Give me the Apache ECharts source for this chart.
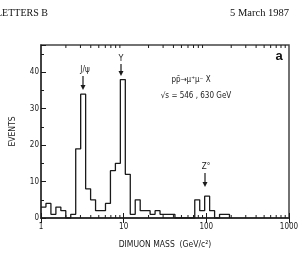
<!DOCTYPE html>
<html><head><meta charset="utf-8">
<script src="https://cdn.jsdelivr.net/npm/echarts@6/dist/echarts.min.js"></script>
<style>html,body{margin:0;padding:0;background:#fff}#c{width:304px;height:262px}</style>
</head><body><div id="c"></div>
<script>
// Bin lower edges (GeV/c^2), log-spaced
const massBinEdges = [1.00,1.148,1.318,1.514,1.738,1.995,2.291,2.630,3.020,3.467,3.981,4.571,5.248,6.026,6.918,7.943,9.120,10.47,12.02,13.80,15.85,18.20,20.89,23.99,27.54,31.62,36.31,41.69,47.86,54.95,63.10,72.44,83.18,95.50,109.6,125.9,144.5,166.0,190.5];
// Events per bin
const events = [3,4,1,3,2,0,1,19,34,8,5,2,2,4,13,15,38,12,1,5,2,2,1,2,1,1,1,0,0,0,0,5,2,6,2,0,1,1];
const xMajorTicks = [1,10,100,1000];
const xMinorTicks = [2,3,4,5,6,7,8,9,20,30,40,50,60,70,80,90,200,300,400,500,600,700,800,900];
const yLabels = [0,10,20,30,40];

const stepData = events.map((v,i)=>[massBinEdges[i], v]);
stepData.push([massBinEdges[events.length], 0]);

const ink = '#1a1a1a';
const lblFont = 'DejaVu Sans Condensed, DejaVu Sans, sans-serif';
const chart = echarts.init(document.getElementById('c'), null, {renderer:'canvas'});
const yMax = 47.5;

chart.setOption({
  animation:false,
  backgroundColor:'#fff',
  grid:{left:41,right:15,top:45,bottom:44,show:true,borderColor:'#444',borderWidth:1.5,backgroundColor:'transparent'},
  xAxis:[{
    type:'log',logBase:10,min:1,max:1000,position:'bottom',
    axisLine:{show:true,lineStyle:{color:'#333',width:1.5}},
    axisTick:{show:true,inside:true,length:5,lineStyle:{color:ink,width:1}},
    axisLabel:{show:true,margin:5,fontSize:8,color:ink,fontFamily:lblFont,formatter:v=>String(Math.round(v))},
    splitLine:{show:false},
    name:'DIMUON MASS  (GeV/c\u00B2)',nameLocation:'middle',nameGap:22,
    nameTextStyle:{fontSize:8.5,color:ink,fontFamily:lblFont}
  },{
    type:'log',logBase:10,min:1,max:1000,position:'top',
    axisLine:{show:true,lineStyle:{color:'#333',width:1.5}},
    axisTick:{show:true,inside:true,length:5,lineStyle:{color:ink,width:1}},
    axisLabel:{show:false},splitLine:{show:false}
  }],
  yAxis:[{
    type:'value',min:0,max:yMax,interval:10,
    axisLine:{show:true,lineStyle:{color:'#333',width:1.5}},
    axisTick:{show:true,inside:true,length:5,lineStyle:{color:ink,width:1}},
    axisLabel:{margin:2,fontSize:8,color:ink,fontFamily:lblFont,formatter:v=>(yLabels.indexOf(v)>=0?String(v):'')},
    splitLine:{show:false},
    name:'EVENTS',nameLocation:'middle',nameGap:24,nameRotate:90,
    nameTextStyle:{fontSize:8.5,color:ink,fontFamily:lblFont}
  },{
    type:'value',min:0,max:yMax,interval:5,position:'left',
    axisLine:{show:false},
    axisTick:{show:true,inside:true,length:3,lineStyle:{color:ink,width:1}},
    axisLabel:{show:false},splitLine:{show:false}
  }],
  series:[{
    type:'line',xAxisIndex:0,yAxisIndex:0,step:'end',data:stepData,
    symbol:'none',lineStyle:{color:ink,width:1.3},z:5
  },{
    type:'custom',xAxisIndex:0,yAxisIndex:0,data:xMinorTicks.map(v=>[v,0]),
    renderItem:function(params,api){
      const cs = params.coordSys;
      const x = api.coord([api.value(0),0])[0];
      const yb = cs.y+cs.height, yt = cs.y;
      return {type:'group',children:[
        {type:'line',shape:{x1:x,y1:yb,x2:x,y2:yb-3},style:{stroke:ink,lineWidth:1}},
        {type:'line',shape:{x1:x,y1:yt,x2:x,y2:yt+3},style:{stroke:ink,lineWidth:1}}
      ]};
    },z:4
  }],
  graphic:[
    {type:'text',left:-4,top:8,style:{text:'LETTERS B',font:'10px "Liberation Serif", serif',fill:'#111'}},
    {type:'text',right:15,top:8,style:{text:'5 March 1987',font:'10.5px "Liberation Serif", serif',fill:'#111'}},
    {type:'text',x:279,y:56,style:{text:'a',font:'bold 13px "Liberation Sans", sans-serif',fill:'#111',align:'center',verticalAlign:'middle'}},
    {type:'text',x:191,y:80,style:{text:'p\u0070\u0304\u2192\u03BC\u207A\u03BC\u207B X',font:'8px '+lblFont,fill:ink,align:'center',verticalAlign:'middle'}},
    {type:'text',x:196,y:96,style:{text:'\u221As = 546 , 630 GeV',font:'8px '+lblFont,fill:ink,align:'center',verticalAlign:'middle'}},
    {type:'text',x:85,y:70,style:{text:'J/\u03C8',font:'8px '+lblFont,fill:ink,align:'center',verticalAlign:'middle'}},
    {type:'line',shape:{x1:83,y1:76,x2:83,y2:87},style:{stroke:ink,lineWidth:1.2}},
    {type:'polygon',shape:{points:[[80.5,85],[85.5,85],[83,90]]},style:{fill:ink}},
    {type:'text',x:121,y:59,style:{text:'\u03A5',font:'9px '+lblFont,fill:ink,align:'center',verticalAlign:'middle'}},
    {type:'line',shape:{x1:121,y1:64,x2:121,y2:73},style:{stroke:ink,lineWidth:1.2}},
    {type:'polygon',shape:{points:[[118.5,71],[123.5,71],[121,76]]},style:{fill:ink}},
    {type:'text',x:206,y:167,style:{text:'Z\u00B0',font:'8px '+lblFont,fill:ink,align:'center',verticalAlign:'middle'}},
    {type:'line',shape:{x1:205,y1:173,x2:205,y2:184},style:{stroke:ink,lineWidth:1.2}},
    {type:'polygon',shape:{points:[[202.5,182],[207.5,182],[205,187]]},style:{fill:ink}}
  ]
});
</script></body></html>
